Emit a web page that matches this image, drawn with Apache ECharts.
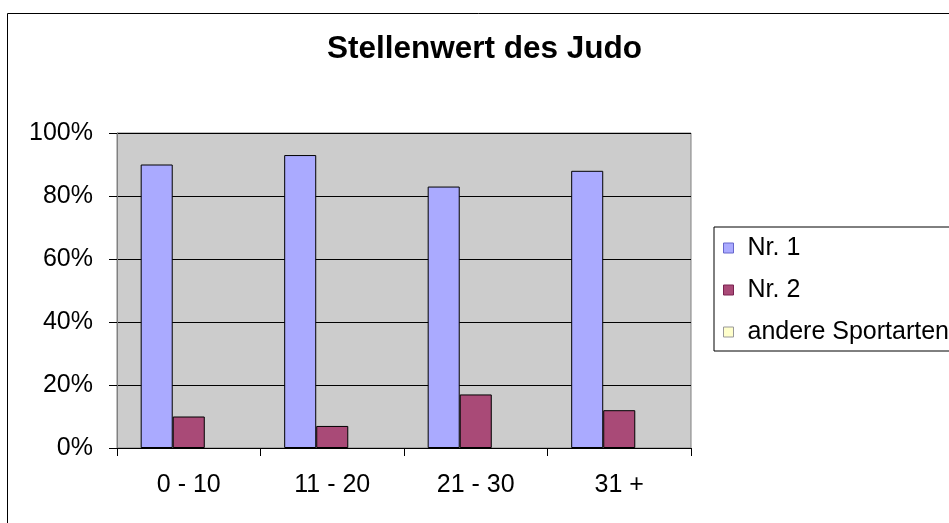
<!DOCTYPE html>
<html>
<head>
<meta charset="utf-8">
<script src="https://cdn.jsdelivr.net/npm/echarts@6/dist/echarts.min.js"></script>
<style>html,body{margin:0;padding:0;background:#fff}#c{width:949px;height:523px}</style>
</head>
<body>
<div id="c"></div>
<script>
const categories = ['0 - 10', '11 - 20', '21 - 30', '31 +'];
const seriesNames = ['Nr. 1', 'Nr. 2', 'andere Sportarten'];
const nr1 = [90, 93, 83, 88];
const nr2 = [10, 7, 17, 12];
const andere = [0, 0, 0, 0];
const yTicks = [0, 20, 40, 60, 80, 100];
const colors = ['#AAAAFF', '#A94A77', '#FFFFCC'];
const legendBorders = ['#6666CC', '#7A2250', '#999999'];

const font = 'Liberation Sans, Arial, sans-serif';
const chart = echarts.init(document.getElementById('c'), null, {renderer: 'canvas'});
const values = [nr1, nr2, andere];
chart.setOption({
  animation: false,
  backgroundColor: '#ffffff',
  title: {
    text: 'Stellenwert des Judo',
    left: 327,
    top: 33,
    padding: 0,
    textStyle: {fontFamily: font, fontSize: 31.5, fontWeight: 'bold', color: '#000'}
  },
  graphic: [{
    type: 'rect', silent: true, z: -10,
    shape: {x: 7.5, y: 13.5, width: 1000, height: 1000},
    style: {fill: 'none', stroke: '#000', lineWidth: 1}
  }],
  legend: {
    orient: 'vertical',
    left: 714,
    top: 227,
    padding: [8.5, 12, 6.5, 9],
    itemGap: 17,
    itemWidth: 10,
    itemHeight: 10,
    borderColor: '#000',
    borderWidth: 1,
    icon: 'rect',
    data: seriesNames.map((n, i) => ({name: n, itemStyle: {color: colors[i], borderColor: legendBorders[i], borderWidth: 1}})),
    textStyle: {fontFamily: font, fontSize: 25, color: '#000', lineHeight: 25, padding: [0, 0, 0, 9]}
  },
  grid: {
    left: 117, right: 258, top: 133, bottom: 75,
    show: true, backgroundColor: '#CCCCCC', borderColor: '#808080', borderWidth: 1
  },
  xAxis: {
    type: 'category',
    data: categories,
    boundaryGap: true,
    axisLine: {lineStyle: {color: '#000', width: 1}},
    axisTick: {show: true, alignWithLabel: false, length: 8, lineStyle: {color: '#000'}},
    axisLabel: {fontFamily: font, fontSize: 25, color: '#000', margin: 25},
    splitLine: {show: false}
  },
  yAxis: {
    type: 'value',
    min: yTicks[0],
    max: yTicks[yTicks.length - 1],
    interval: 20,
    axisLine: {show: true, lineStyle: {color: '#808080', width: 1}},
    axisTick: {show: true, length: 8, lineStyle: {color: '#000'}},
    axisLabel: {fontFamily: font, fontSize: 25, color: '#000', margin: 24, formatter: v => v + '%'},
    splitLine: {show: true, lineStyle: {color: '#000', width: 1}}
  },
  series: seriesNames.map((n, i) => ({
    name: n,
    type: 'bar',
    data: values[i],
    barGap: '0%',
    barCategoryGap: '33%',
    itemStyle: {color: colors[i], borderColor: '#000', borderWidth: i === 2 ? 0 : 1}
  }))
});
</script>
</body>
</html>
